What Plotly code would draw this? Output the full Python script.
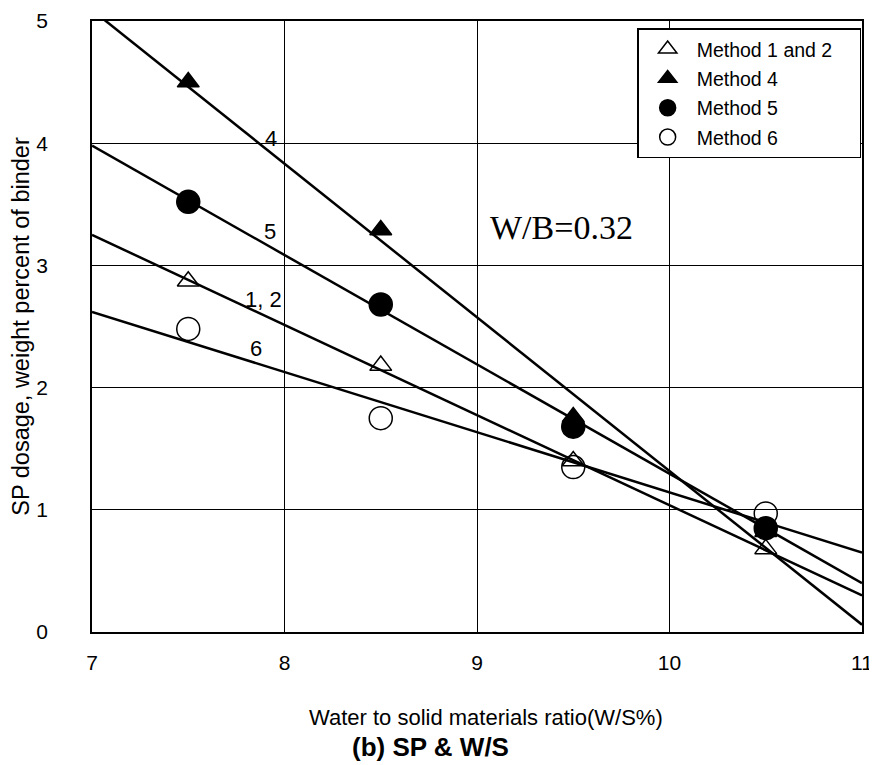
import plotly.graph_objects as go

# Data
x_ws = [7.5, 8.5, 9.5, 10.5]
sp_m12 = [2.87, 2.18, 1.40, 0.68]
sp_m4 = [4.50, 3.29, 1.76, 0.82]
sp_m5 = [3.52, 2.68, 1.68, 0.85]
sp_m6 = [2.48, 1.75, 1.35, 0.97]

fit_x = [7, 11]
fit_m4 = [5.09, 0.06]
fit_m5 = [3.98, 0.40]
fit_m12 = [3.25, 0.30]
fit_m6 = [2.62, 0.65]

line_labels = ["4", "5", "1, 2", "6"]
line_label_x = [7.93, 7.925, 7.89, 7.85]
line_label_y = [4.04, 3.28, 2.72, 2.32]

x_ticks = [7, 8, 9, 10, 11]
y_ticks = [0, 1, 2, 3, 4, 5]

FONT = "Liberation Sans, Arial, sans-serif"
NBSP = "\u00a0"

fig = go.Figure()

for fy in [fit_m4, fit_m5, fit_m12, fit_m6]:
    fig.add_trace(go.Scatter(x=fit_x, y=fy, mode="lines",
                             line=dict(color="black", width=2.5),
                             showlegend=False, hoverinfo="skip"))

series = [
    ("Method 1 and 2" + NBSP * 4, sp_m12, "triangle-up-open", 19),
    ("Method 4", sp_m4, "triangle-up", 19),
    ("Method 5", sp_m5, "circle", 23),
    ("Method 6", sp_m6, "circle-open", 23),
]
for i, (name, ys, sym, sz) in enumerate(series):
    fig.add_trace(go.Scatter(
        x=x_ws, y=ys, mode="markers", name=name, legendgroup=f"g{i}",
        marker=dict(symbol=sym, size=sz, color="black",
                    line=dict(color="black", width=1.5)),
        cliponaxis=False))

for t, lx, ly in zip(line_labels, line_label_x, line_label_y):
    fig.add_annotation(x=lx, y=ly, text=t, showarrow=False,
                       font=dict(family=FONT, size=22, color="black"))

fig.add_annotation(x=9.44, y=3.31, text="W/B=0.32", showarrow=False,
                   font=dict(family="Liberation Serif, Times New Roman, serif",
                             size=34, color="black"))

fig.add_annotation(xref="paper", yref="paper", x=0.512, y=-0.140,
                   text="Water to solid materials ratio(W/S%)", showarrow=False,
                   xanchor="center", yanchor="middle",
                   font=dict(family=FONT, size=22, color="black"))
fig.add_annotation(xref="paper", yref="paper", x=0.439, y=-0.189,
                   text="<b>(b) SP &amp; W/S</b>", showarrow=False,
                   xanchor="center", yanchor="middle",
                   font=dict(family=FONT, size=26, color="black"))

fig.update_xaxes(range=[7, 11], tickvals=x_ticks, showgrid=True,
                 gridcolor="black", gridwidth=1, showline=True,
                 linecolor="black", linewidth=1.5, mirror=True,
                 ticks="", ticklabelstandoff=11, zeroline=False,
                 automargin=False, ticklabeloverflow="allow",
                 tickfont=dict(family=FONT, size=21, color="black"))
fig.update_yaxes(range=[0, 5], tickvals=y_ticks, showgrid=True,
                 gridcolor="black", gridwidth=1, showline=True,
                 linecolor="black", linewidth=1.5, mirror=True,
                 ticks="", ticklabelstandoff=38, zeroline=False,
                 automargin=False, ticklabeloverflow="allow",
                 tickfont=dict(family=FONT, size=21, color="black"),
                 title=dict(text="SP dosage, weight percent of binder",
                            font=dict(family=FONT, size=23.5, color="black"),
                            standoff=13))

fig.update_layout(
    width=869, height=757,
    margin=dict(l=84, r=15, t=13, b=133, autoexpand=False),
    plot_bgcolor="white", paper_bgcolor="white",
    font=dict(family=FONT, color="black"),
    legend=dict(x=0.708, y=0.988, xanchor="left", yanchor="top",
                bgcolor="white", bordercolor="black", borderwidth=1.5,
                font=dict(family=FONT, size=19.5, color="black"),
                tracegroupgap=1, itemwidth=48),
)

fig.write_html("out.html")
